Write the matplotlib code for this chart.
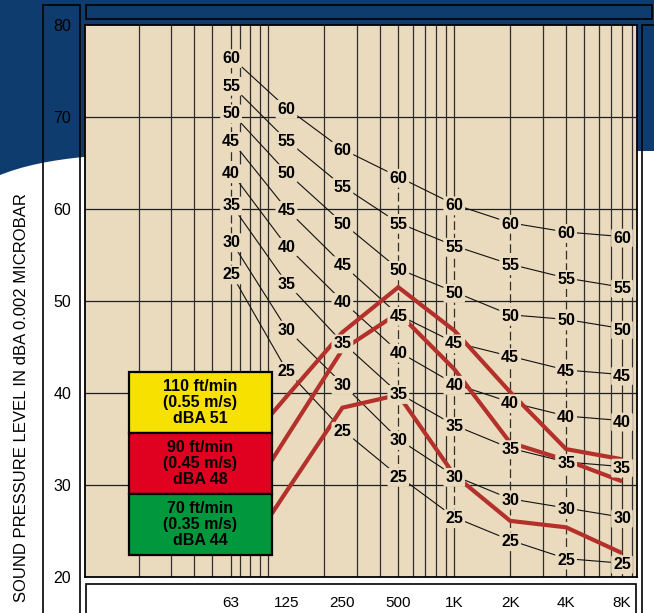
"""
NC curves chart with three air-flow spectra (recreated with matplotlib)
"""

import numpy as np
import matplotlib
matplotlib.use('Agg')
import matplotlib.pyplot as plt
from matplotlib.patches import Rectangle, Polygon

W, H = 654, 613

# octave band centre frequencies and labels
bands = [63, 125, 250, 500, 1000, 2000, 4000, 8000]
band_labels = ['63', '125', '250', '500', '1K', '2K', '4K', '8K']

# NC curves: level (dB) in each octave band
nc_values = [25, 30, 35, 40, 45, 50, 55, 60]
nc25 = [53, 42.5, 36, 31, 26.5, 24, 22, 21.5]
nc30 = [56.5, 47, 41, 35, 31, 28.5, 27.5, 26.5]
nc35 = [60.5, 52, 45.5, 40, 36.5, 34, 32.5, 32]
nc40 = [64, 56, 50, 44.5, 41, 39, 37.5, 37]
nc45 = [67.5, 60, 54, 48.5, 45.5, 44, 42.5, 42]
nc50 = [70.5, 64, 58.5, 53.5, 51, 48.5, 48, 47]
nc55 = [73.5, 67.5, 62.5, 58.5, 56, 54, 52.5, 51.5]
nc60 = [76.5, 71, 66.5, 63.5, 60.5, 58.5, 57.5, 57]
nc_curves = [nc25, nc30, nc35, nc40, nc45, nc50, nc55, nc60]

# measured spectra (63 Hz point sits behind the legend boxes)
spec_110 = [32.6, 39.6, 46.6, 51.5, 46.8, 40.1, 33.9, 32.8]
spec_90 = [25.7, 35.2, 44.7, 48.7, 42.6, 34.6, 32.7, 30.4]
spec_70 = [20.2, 29.3, 38.4, 39.8, 31.1, 26.1, 25.4, 22.6]

legend_texts = ['110 ft/min\n(0.55 m/s)\ndBA 51',
                '90 ft/min\n(0.45 m/s)\ndBA 48',
                '70 ft/min\n(0.35 m/s)\ndBA 44']
legend_colors = ['#f6e100', '#e0001f', '#00973d']

y_ticks = [20, 30, 40, 50, 60, 70, 80]
h_grid = [30, 40, 50, 60, 70]
v_grid = [20, 30, 40, 50, 70, 80, 90, 100, 200, 300, 400, 600, 700, 800, 900,
          3000, 5000, 6000, 7000, 8000, 9000]
column_bands = [63, 500, 1000, 2000, 4000]

BLUE = '#0f3c6e'
BEIGE = '#eadabe'
RED_LINE = '#b3302b'
FONT = ['Liberation Sans', 'DejaVu Sans']


def px(x, y):
    """pixel (from top-left) -> figure fraction"""
    return x / W, 1 - y / H


fig = plt.figure(figsize=(W / 100, H / 100), dpi=100)
fig.patch.set_facecolor('white')

# blue backdrop with curved lower edge
xs = np.linspace(0, W, 60)
ys = 151 + 24 * np.exp(-xs / 60)
pts = [px(0, 0), px(W, 0)] + [px(x, y) for x, y in zip(xs[::-1], ys[::-1])]
fig.add_artist(Polygon(pts, closed=True, transform=fig.transFigure,
                       fc=BLUE, ec='none', zorder=-2))


def frame(x0, y0, x1, y1, fc='none', z=-1):
    fx0, fy1 = px(x0, y1)
    fx1, fy0 = px(x1, y0)
    fig.add_artist(Rectangle((fx0, fy1), fx1 - fx0, fy0 - fy1,
                             transform=fig.transFigure, fc=fc, ec='black',
                             lw=1.2, zorder=z))


frame(43, 5, 80, 620)          # left column
frame(86, 5, 652, 19)          # top bar
frame(642, 25, 660, 620)       # right column
frame(86, 584, 636, 620, fc='white')  # bottom label box

ax = fig.add_axes([85 / W, 1 - 577 / H, 552 / W, 552 / H])
ax.set_facecolor(BEIGE)
ax.set_xscale('log', base=2)
ax.set_xlim(10.3, 9630)
ax.set_ylim(20, 80)
for s in ax.spines.values():
    s.set_linewidth(1.3)
    s.set_color('black')

ax.xaxis.set_minor_locator(matplotlib.ticker.NullLocator())
ax.set_xticks(bands, band_labels)
ax.set_yticks(y_ticks, [str(v) for v in y_ticks])
ax.tick_params(axis='x', length=0, pad=14, labelsize=11)
ax.tick_params(axis='y', length=0, pad=10, labelsize=11.5)
for lab in ax.get_xticklabels() + ax.get_yticklabels():
    lab.set_family(FONT)

# grid
for v in h_grid:
    ax.axhline(v, color='#1e1e1e', lw=0.9, zorder=0.5)
for f in v_grid:
    ax.axvline(f, color='#2f2f2f', lw=0.9, zorder=0.5)

# octave band columns: solid above/below, dashed through the NC labels
for i, f in enumerate(bands):
    if f not in column_bands:
        continue
    top, bot = nc60[i], nc25[i]
    ax.plot([f, f], [top, 80], color='#2f2f2f', lw=0.9, zorder=0.6)
    ax.plot([f, f], [20, bot], color='#2f2f2f', lw=0.9, zorder=0.6)
    ax.plot([f, f], [bot, top], color='#2f2f2f', lw=0.9, zorder=0.6,
            dashes=(7, 3))

# NC curves
for curve in nc_curves:
    ax.plot(bands, curve, color='#111111', lw=0.8, zorder=1)

# legend box geometry (axes fraction)
bx0, bx1 = (129 - 85) / 552, (272 - 85) / 552
edges = [(577 - y) / 552 for y in (372, 433, 494, 555)]

# spectra, kept above the bottom edge of the legend boxes
for spec in (spec_110, spec_90, spec_70):
    line, = ax.plot(bands, spec, color=RED_LINE, lw=3, zorder=2,
                    solid_joinstyle='miter', solid_capstyle='butt')
    line.set_clip_path(Rectangle((0, edges[-1]), 1, 1 - edges[-1],
                                 transform=ax.transAxes))

# NC labels
for nc, curve in zip(nc_values, nc_curves):
    for f, v in zip(bands, curve):
        ax.text(f, v, str(nc), ha='center', va='center_baseline',
                fontsize=11.5, fontweight='bold', family=FONT, zorder=3,
                bbox=dict(boxstyle='round,pad=0.12', fc=BEIGE, ec='none'))

# legend boxes
for i, (txt, col) in enumerate(zip(legend_texts, legend_colors)):
    top, bot = edges[i], edges[i + 1]
    ax.add_patch(Rectangle((bx0, bot), bx1 - bx0, top - bot,
                           transform=ax.transAxes, fc=col, ec='black',
                           lw=1.6, zorder=4))
    ax.text((bx0 + bx1) / 2, (top + bot) / 2, txt, transform=ax.transAxes,
            ha='center', va='center', fontsize=11.5, fontweight='bold',
            family=FONT, linespacing=1.05, zorder=5)

fx, fy = px(22, 193)
fig.text(fx, fy, 'SOUND PRESSURE LEVEL IN dBA 0.002 MICROBAR',
         rotation=90, ha='center', va='top', fontsize=12, family=FONT)

fig.savefig('out.png', dpi=100, facecolor='white')
